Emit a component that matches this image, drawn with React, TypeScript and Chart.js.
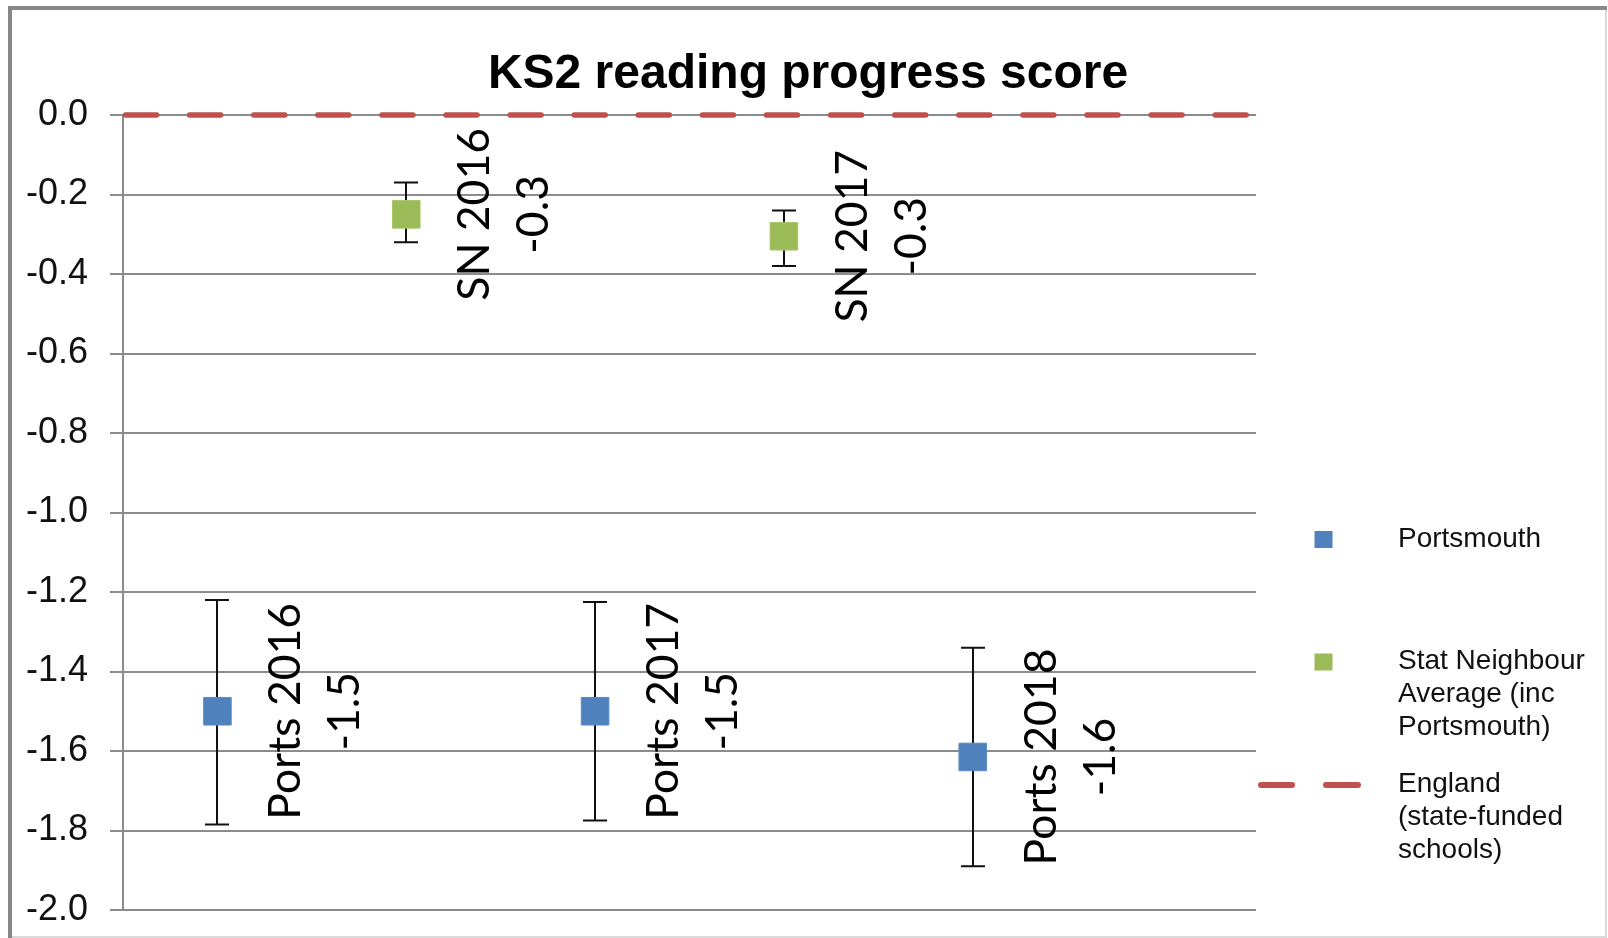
import React, { useEffect, useRef } from "react";
import { Chart, registerables } from "chart.js";

Chart.register(...registerables);

// ---- data ----
const chartTitle = "KS2 reading progress score";
const seriesNames = ["Portsmouth", "Stat Neighbour Average (inc Portsmouth)", "England (state-funded schools)"];

const portsX = [0.5, 2.5, 4.5];
const portsY = [-1.5, -1.5, -1.615];
const portsHigh = [-1.22, -1.225, -1.34];
const portsLow = [-1.785, -1.775, -1.89];
const portsNames = ["Ports 2016", "Ports 2017", "Ports 2018"];

const snX = [1.5, 3.5];
const snY = [-0.25, -0.305];
const snHigh = [-0.17, -0.24];
const snLow = [-0.32, -0.38];
const snNames = ["SN 2016", "SN 2017"];

const englandX = [0, 6];
const englandY = [0, 0];

const yMin = -2;
const yMax = 0;
const yStep = 0.2;

const legendLines = [
  ["Portsmouth"],
  ["Stat Neighbour", "Average (inc", "Portsmouth)"],
  ["England", "(state-funded", "schools)"],
];

// ---- styles ----
const BLUE = "#4F81BD";
const GREEN = "#9BBB59";
const RED = "#C0504D";
const GRID = "#8c8c8c";
const SANS = "'Liberation Sans', Arial, sans-serif";
const LABEL_FONT = "Lato, 'Noto Sans', sans-serif";

const framePlugin = {
  id: "frame",
  beforeDraw(chart: any) {
    const ctx = chart.ctx;
    ctx.save();
    ctx.fillStyle = "#ffffff";
    ctx.fillRect(0, 0, chart.width, chart.height);
    ctx.fillStyle = "#dadada";
    ctx.fillRect(1605, 8, 2, 930);
    ctx.fillRect(8, 936, 1599, 2);
    ctx.fillStyle = "#878787";
    ctx.fillRect(8, 6, 1599, 4);
    ctx.fillRect(8, 6, 4, 932);
    ctx.restore();
  },
};

const errorBarPlugin = {
  id: "errorBars",
  beforeDatasetsDraw(chart: any) {
    const ctx = chart.ctx;
    const xs = chart.scales.x;
    const ys = chart.scales.y;
    const draw = (xv: number[], hi: number[], lo: number[]) => {
      xv.forEach((v, i) => {
        const px = Math.round(xs.getPixelForValue(v));
        const ph = ys.getPixelForValue(hi[i]);
        const pl = ys.getPixelForValue(lo[i]);
        ctx.beginPath();
        ctx.moveTo(px, ph);
        ctx.lineTo(px, pl);
        ctx.moveTo(px - 12, ph);
        ctx.lineTo(px + 12, ph);
        ctx.moveTo(px - 12, pl);
        ctx.lineTo(px + 12, pl);
        ctx.stroke();
      });
    };
    ctx.save();
    ctx.strokeStyle = "#111";
    ctx.lineWidth = 2;
    draw(portsX, portsHigh, portsLow);
    draw(snX, snHigh, snLow);
    ctx.restore();
  },
};

const labelsPlugin = {
  id: "pointLabels",
  afterDatasetsDraw(chart: any) {
    const ctx = chart.ctx;
    const xs = chart.scales.x;
    const ys = chart.scales.y;
    const draw = (xv: number[], yv: number[], names: string[]) => {
      xv.forEach((v, i) => {
        const px = xs.getPixelForValue(v);
        const py = ys.getPixelForValue(yv[i]);
        ctx.save();
        ctx.translate(px + 83, py);
        ctx.rotate(-Math.PI / 2);
        ctx.fillStyle = "#000";
        ctx.font = `44.5px ${LABEL_FONT}`;
        ctx.textAlign = "center";
        ctx.textBaseline = "alphabetic";
        ctx.fillText(names[i], 0, 0);
        ctx.fillText(yv[i].toFixed(1), 0, 59);
        ctx.restore();
      });
    };
    draw(portsX, portsY, portsNames);
    draw(snX, snY, snNames);
  },
  afterDraw(chart: any) {
    const ctx = chart.ctx;
    ctx.save();
    // title
    ctx.fillStyle = "#000";
    ctx.font = `bold 48px ${SANS}`;
    ctx.textAlign = "center";
    ctx.textBaseline = "alphabetic";
    ctx.fillText(chartTitle, 808, 88);

    // legend
    const symX = 1323.5;
    const textX = 1398;
    const rowY = [539.5, 662, 785];
    ctx.font = `28px ${SANS}`;
    ctx.textAlign = "left";
    ctx.fillStyle = BLUE;
    ctx.fillRect(symX - 9, rowY[0] - 8.5, 18, 17);
    ctx.fillStyle = GREEN;
    ctx.fillRect(symX - 9, rowY[1] - 8.5, 18, 17);
    ctx.strokeStyle = RED;
    ctx.lineWidth = 6;
    ctx.lineCap = "round";
    ctx.beginPath();
    ctx.moveTo(1261, rowY[2]);
    ctx.lineTo(1292, rowY[2]);
    ctx.moveTo(1326, rowY[2]);
    ctx.lineTo(1358, rowY[2]);
    ctx.stroke();
    ctx.fillStyle = "#111";
    legendLines.forEach((lines, r) => {
      lines.forEach((t, k) => {
        ctx.fillText(t, textX, rowY[r] + 7 + k * 33);
      });
    });
    ctx.restore();
  },
};

export default function App() {
  const ref = useRef<HTMLCanvasElement | null>(null);
  useEffect(() => {
    if (!ref.current) return;
    const chart = new Chart(ref.current, {
      type: "scatter",
      data: {
        datasets: [
          {
            label: seriesNames[0],
            data: portsX.map((x, i) => ({ x, y: portsY[i] })),
            backgroundColor: BLUE,
            borderColor: "#5b8cc6",
            pointBorderWidth: 1,
            pointStyle: "rect",
            pointRadius: 19.5,
            showLine: false,
            clip: false,
          },
          {
            label: seriesNames[1],
            data: snX.map((x, i) => ({ x, y: snY[i] })),
            backgroundColor: GREEN,
            borderColor: "#a6c468",
            pointBorderWidth: 1,
            pointStyle: "rect",
            pointRadius: 19.5,
            showLine: false,
            clip: false,
          },
          {
            label: seriesNames[2],
            type: "line",
            data: englandX.map((x, i) => ({ x, y: englandY[i] })),
            borderColor: RED,
            borderWidth: 5.5,
            borderDash: [31, 33.1],
            borderDashOffset: -2.5,
            borderCapStyle: "round",
            pointRadius: 0,
            showLine: true,
            fill: false,
            clip: false,
          } as any,
        ],
      },
      options: {
        responsive: false,
        maintainAspectRatio: false,
        animation: false,
        layout: { padding: { left: 0, right: 352, top: 115, bottom: 28 } },
        plugins: {
          legend: { display: false },
          title: { display: false },
          tooltip: { enabled: false },
        },
        scales: {
          x: { type: "linear", min: 0, max: 6, display: false },
          y: {
            min: yMin,
            max: yMax,
            ticks: {
              stepSize: yStep,
              callback: (v: any) => Number(v).toFixed(1),
              font: { family: SANS, size: 36 },
              color: "#111",
              padding: 22,
            },
            grid: { color: GRID, lineWidth: 2, tickLength: 13 },
            border: { color: GRID, width: 2 },
            afterFit: (s: any) => {
              s.width = 123;
              s.paddingTop = 0;
              s.paddingBottom = 0;
            },
          },
        },
      },
      plugins: [framePlugin, errorBarPlugin, labelsPlugin],
    } as any);
    return () => chart.destroy();
  }, []);
  return (
    <div style={{ position: "absolute", left: 0, top: 0, width: 1608, height: 938 }}>
      <canvas ref={ref} width={1608} height={938} style={{ width: 1608, height: 938, display: "block" }} />
    </div>
  );
}
